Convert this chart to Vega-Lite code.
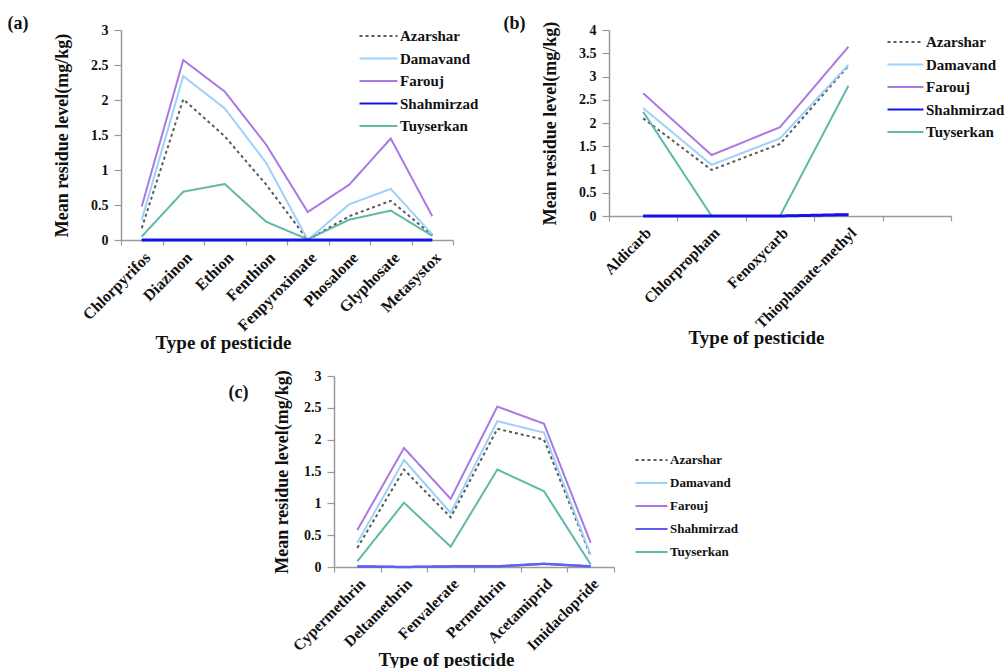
{
  "$schema": "https://vega.github.io/schema/vega-lite/v6.json",
  "background": "white",
  "padding": {"left": 7, "top": 15, "right": 5, "bottom": 5},
  "config": {
    "view": {"stroke": null},
    "font": "Liberation Serif",
    "axis": {
      "labelFont": "Liberation Serif", "labelFontWeight": "bold", "labelColor": "#111",
      "titleFont": "Liberation Serif", "titleFontWeight": "bold", "titleColor": "#111",
      "domainColor": "#9a9a9a", "tickColor": "#9a9a9a", "domainWidth": 1.5, "tickWidth": 1.2,
      "grid": false
    },
    "axisX": {"tickSize": 5, "labelPadding": 4, "titleFontSize": 19},
    "axisY": {"tickSize": 7, "labelPadding": 6, "titleFontSize": 18, "labelFontSize": 14},
    "legend": {
      "labelFont": "Liberation Serif", "labelFontWeight": "bold", "labelColor": "#111",
      "symbolType": "stroke", "symbolStrokeWidth": 2.2, "clipHeight": 16, "rowPadding": 6.5, "labelOffset": 1
    },
    "title": {"font": "Liberation Serif", "fontWeight": "bold", "fontSize": 18, "color": "#111", "anchor": "start", "frame": "bounds"}
  },
  "datasets": {
    "a": [
      {"pesticide": "Chlorpyrifos", "site": "Azarshar", "value": 0.17},
      {"pesticide": "Diazinon", "site": "Azarshar", "value": 2.01},
      {"pesticide": "Ethion", "site": "Azarshar", "value": 1.48},
      {"pesticide": "Fenthion", "site": "Azarshar", "value": 0.79},
      {"pesticide": "Fenpyroximate", "site": "Azarshar", "value": 0.0},
      {"pesticide": "Phosalone", "site": "Azarshar", "value": 0.34},
      {"pesticide": "Glyphosate", "site": "Azarshar", "value": 0.56},
      {"pesticide": "Metasystox", "site": "Azarshar", "value": 0.07},
      {"pesticide": "Chlorpyrifos", "site": "Damavand", "value": 0.29},
      {"pesticide": "Diazinon", "site": "Damavand", "value": 2.34},
      {"pesticide": "Ethion", "site": "Damavand", "value": 1.88},
      {"pesticide": "Fenthion", "site": "Damavand", "value": 1.1},
      {"pesticide": "Fenpyroximate", "site": "Damavand", "value": 0.0},
      {"pesticide": "Phosalone", "site": "Damavand", "value": 0.51},
      {"pesticide": "Glyphosate", "site": "Damavand", "value": 0.73},
      {"pesticide": "Metasystox", "site": "Damavand", "value": 0.08},
      {"pesticide": "Chlorpyrifos", "site": "Farouj", "value": 0.48},
      {"pesticide": "Diazinon", "site": "Farouj", "value": 2.57},
      {"pesticide": "Ethion", "site": "Farouj", "value": 2.12},
      {"pesticide": "Fenthion", "site": "Farouj", "value": 1.36},
      {"pesticide": "Fenpyroximate", "site": "Farouj", "value": 0.4},
      {"pesticide": "Phosalone", "site": "Farouj", "value": 0.79},
      {"pesticide": "Glyphosate", "site": "Farouj", "value": 1.45},
      {"pesticide": "Metasystox", "site": "Farouj", "value": 0.34},
      {"pesticide": "Chlorpyrifos", "site": "Shahmirzad", "value": 0.0},
      {"pesticide": "Diazinon", "site": "Shahmirzad", "value": 0.0},
      {"pesticide": "Ethion", "site": "Shahmirzad", "value": 0.0},
      {"pesticide": "Fenthion", "site": "Shahmirzad", "value": 0.0},
      {"pesticide": "Fenpyroximate", "site": "Shahmirzad", "value": 0.0},
      {"pesticide": "Phosalone", "site": "Shahmirzad", "value": 0.0},
      {"pesticide": "Glyphosate", "site": "Shahmirzad", "value": 0.0},
      {"pesticide": "Metasystox", "site": "Shahmirzad", "value": 0.0},
      {"pesticide": "Chlorpyrifos", "site": "Tuyserkan", "value": 0.05},
      {"pesticide": "Diazinon", "site": "Tuyserkan", "value": 0.69},
      {"pesticide": "Ethion", "site": "Tuyserkan", "value": 0.8},
      {"pesticide": "Fenthion", "site": "Tuyserkan", "value": 0.26},
      {"pesticide": "Fenpyroximate", "site": "Tuyserkan", "value": 0.01},
      {"pesticide": "Phosalone", "site": "Tuyserkan", "value": 0.29},
      {"pesticide": "Glyphosate", "site": "Tuyserkan", "value": 0.42},
      {"pesticide": "Metasystox", "site": "Tuyserkan", "value": 0.06}
    ],
    "b": [
      {"pesticide": "Aldicarb", "site": "Azarshar", "value": 2.1},
      {"pesticide": "Chlorpropham", "site": "Azarshar", "value": 0.99},
      {"pesticide": "Fenoxycarb", "site": "Azarshar", "value": 1.55},
      {"pesticide": "Thiophanate-methyl", "site": "Azarshar", "value": 3.23},
      {"pesticide": "Aldicarb", "site": "Damavand", "value": 2.32},
      {"pesticide": "Chlorpropham", "site": "Damavand", "value": 1.1},
      {"pesticide": "Fenoxycarb", "site": "Damavand", "value": 1.67},
      {"pesticide": "Thiophanate-methyl", "site": "Damavand", "value": 3.25},
      {"pesticide": "Aldicarb", "site": "Farouj", "value": 2.64},
      {"pesticide": "Chlorpropham", "site": "Farouj", "value": 1.31},
      {"pesticide": "Fenoxycarb", "site": "Farouj", "value": 1.91},
      {"pesticide": "Thiophanate-methyl", "site": "Farouj", "value": 3.64},
      {"pesticide": "Aldicarb", "site": "Shahmirzad", "value": 0.0},
      {"pesticide": "Chlorpropham", "site": "Shahmirzad", "value": 0.0},
      {"pesticide": "Fenoxycarb", "site": "Shahmirzad", "value": 0.0},
      {"pesticide": "Thiophanate-methyl", "site": "Shahmirzad", "value": 0.03},
      {"pesticide": "Aldicarb", "site": "Tuyserkan", "value": 2.24},
      {"pesticide": "Chlorpropham", "site": "Tuyserkan", "value": 0.0},
      {"pesticide": "Fenoxycarb", "site": "Tuyserkan", "value": 0.0},
      {"pesticide": "Thiophanate-methyl", "site": "Tuyserkan", "value": 2.8}
    ],
    "c": [
      {"pesticide": "Cypermethrin", "site": "Azarshar", "value": 0.3},
      {"pesticide": "Deltamethrin", "site": "Azarshar", "value": 1.53},
      {"pesticide": "Fenvalerate", "site": "Azarshar", "value": 0.78},
      {"pesticide": "Permethrin", "site": "Azarshar", "value": 2.17},
      {"pesticide": "Acetamiprid", "site": "Azarshar", "value": 2.0},
      {"pesticide": "Imidaclopride", "site": "Azarshar", "value": 0.17},
      {"pesticide": "Cypermethrin", "site": "Damavand", "value": 0.38},
      {"pesticide": "Deltamethrin", "site": "Damavand", "value": 1.68},
      {"pesticide": "Fenvalerate", "site": "Damavand", "value": 0.85},
      {"pesticide": "Permethrin", "site": "Damavand", "value": 2.29},
      {"pesticide": "Acetamiprid", "site": "Damavand", "value": 2.11},
      {"pesticide": "Imidaclopride", "site": "Damavand", "value": 0.19},
      {"pesticide": "Cypermethrin", "site": "Farouj", "value": 0.58},
      {"pesticide": "Deltamethrin", "site": "Farouj", "value": 1.87},
      {"pesticide": "Fenvalerate", "site": "Farouj", "value": 1.07},
      {"pesticide": "Permethrin", "site": "Farouj", "value": 2.52},
      {"pesticide": "Acetamiprid", "site": "Farouj", "value": 2.25},
      {"pesticide": "Imidaclopride", "site": "Farouj", "value": 0.38},
      {"pesticide": "Cypermethrin", "site": "Shahmirzad", "value": 0.01},
      {"pesticide": "Deltamethrin", "site": "Shahmirzad", "value": 0.0},
      {"pesticide": "Fenvalerate", "site": "Shahmirzad", "value": 0.01},
      {"pesticide": "Permethrin", "site": "Shahmirzad", "value": 0.01},
      {"pesticide": "Acetamiprid", "site": "Shahmirzad", "value": 0.05},
      {"pesticide": "Imidaclopride", "site": "Shahmirzad", "value": 0.01},
      {"pesticide": "Cypermethrin", "site": "Tuyserkan", "value": 0.09},
      {"pesticide": "Deltamethrin", "site": "Tuyserkan", "value": 1.01},
      {"pesticide": "Fenvalerate", "site": "Tuyserkan", "value": 0.32},
      {"pesticide": "Permethrin", "site": "Tuyserkan", "value": 1.53},
      {"pesticide": "Acetamiprid", "site": "Tuyserkan", "value": 1.19},
      {"pesticide": "Imidaclopride", "site": "Tuyserkan", "value": 0.04}
    ]
  },
  "spacing": 17,
  "vconcat": [
    {
      "spacing": 24,
      "hconcat": [
        {
          "width": 332, "height": 210,
          "title": {"text": "(a)", "dx": -46, "dy": 14},
          "data": {"name": "a"},
          "encoding": {
            "x": {"field": "pesticide", "type": "nominal",
              "scale": {"type": "band", "paddingInner": 0, "paddingOuter": 0, "domain": ["Chlorpyrifos", "Diazinon", "Ethion", "Fenthion", "Fenpyroximate", "Phosalone", "Glyphosate", "Metasystox"]},
              "axis": {"title": "Type of pesticide", "labelAngle": -45, "tickBand": "extent", "labelFontSize": 16, "titleX": 102, "titleY": 93}},
            "y": {"field": "value", "type": "quantitative", "scale": {"domain": [0, 3]},
              "axis": {"values": [0, 0.5, 1, 1.5, 2, 2.5, 3], "format": "~g", "title": "Mean residue level(mg/kg)", "titlePadding": 19}},
            "color": {"field": "site", "type": "nominal",
              "scale": {"domain": ["Azarshar", "Damavand", "Farouj", "Shahmirzad", "Tuyserkan"], "range": ["#5a5a5a", "#9fd0fa", "#aa78e4", "#1414e6", "#5fb8a8"]},
              "legend": {"title": null, "orient": "none", "legendX": 237, "legendY": -2, "symbolSize": 1444, "labelFontSize": 15}},
            "strokeDash": {"field": "site", "type": "nominal",
              "scale": {"domain": ["Azarshar", "Damavand", "Farouj", "Shahmirzad", "Tuyserkan"], "range": [[3, 3], [1, 0], [1, 0], [1, 0], [1, 0]]},
              "legend": {"title": null, "orient": "none", "legendX": 237, "legendY": -2, "symbolSize": 1444, "labelFontSize": 15}}
          },
          "layer": [
            {"mark": {"type": "line", "strokeWidth": 2}},
            {"transform": [{"filter": "datum.site === 'Shahmirzad'"}], "mark": {"type": "line", "strokeWidth": 3}}
          ]
        },
        {
          "width": 342, "height": 186,
          "title": {"text": "(b)", "dx": -38, "dy": 16},
          "data": {"name": "b"},
          "encoding": {
            "x": {"field": "pesticide", "type": "nominal",
              "scale": {"type": "band", "paddingInner": 0, "paddingOuter": 0, "domain": ["Aldicarb", "Chlorpropham", "Fenoxycarb", "Thiophanate-methyl", " "]},
              "axis": {"title": "Type of pesticide", "labelAngle": -45, "tickBand": "extent", "labelFontSize": 15.5, "titleX": 147, "titleY": 112}},
            "y": {"field": "value", "type": "quantitative", "scale": {"domain": [0, 4]},
              "axis": {"values": [0, 0.5, 1, 1.5, 2, 2.5, 3, 3.5, 4], "format": "~g", "title": "Mean residue level(mg/kg)", "titlePadding": 19}},
            "color": {"field": "site", "type": "nominal",
              "scale": {"domain": ["Azarshar", "Damavand", "Farouj", "Shahmirzad", "Tuyserkan"], "range": ["#5a5a5a", "#9fd0fa", "#aa78e4", "#1414e6", "#5fb8a8"]},
              "legend": {"title": null, "orient": "none", "legendX": 277, "legendY": 4, "symbolSize": 1296, "labelFontSize": 15}},
            "strokeDash": {"field": "site", "type": "nominal",
              "scale": {"domain": ["Azarshar", "Damavand", "Farouj", "Shahmirzad", "Tuyserkan"], "range": [[3, 3], [1, 0], [1, 0], [1, 0], [1, 0]]},
              "legend": {"title": null, "orient": "none", "legendX": 277, "legendY": 4, "symbolSize": 1296, "labelFontSize": 15}}
          },
          "layer": [
            {"mark": {"type": "line", "strokeWidth": 2}},
            {"transform": [{"filter": "datum.site === 'Shahmirzad'"}], "mark": {"type": "line", "strokeWidth": 3}}
          ]
        }
      ],
      "resolve": {"scale": {"x": "independent", "y": "independent", "color": "independent", "strokeDash": "independent"}, "legend": {"color": "independent", "strokeDash": "independent"}}
    },
    {
      "spacing": 0,
      "hconcat": [
        {
          "width": 107, "height": 10,
          "data": {"values": []},
          "mark": {"type": "point", "opacity": 0}
        },
        {
          "width": 280, "height": 191,
          "title": {"text": "(c)", "dx": -45, "dy": 37},
          "data": {"name": "c"},
          "encoding": {
            "x": {"field": "pesticide", "type": "nominal",
              "scale": {"type": "band", "paddingInner": 0, "paddingOuter": 0, "domain": ["Cypermethrin", "Deltamethrin", "Fenvalerate", "Permethrin", "Acetamiprid", "Imidaclopride"]},
              "axis": {"title": "Type of pesticide", "labelAngle": -45, "tickBand": "extent", "labelFontSize": 15.5, "titleX": 112, "titleY": 83}},
            "y": {"field": "value", "type": "quantitative", "scale": {"domain": [0, 3]},
              "axis": {"values": [0, 0.5, 1, 1.5, 2, 2.5, 3], "format": "~g", "title": "Mean residue level(mg/kg)", "titlePadding": 12}},
            "color": {"field": "site", "type": "nominal",
              "scale": {"domain": ["Azarshar", "Damavand", "Farouj", "Shahmirzad", "Tuyserkan"], "range": ["#5a5a5a", "#9fd0fa", "#aa78e4", "#6060f0", "#5fb8a8"]},
              "legend": {"title": null, "orient": "none", "legendX": 300, "legendY": 76, "symbolSize": 1024, "labelFontSize": 13, "rowPadding": 7}},
            "strokeDash": {"field": "site", "type": "nominal",
              "scale": {"domain": ["Azarshar", "Damavand", "Farouj", "Shahmirzad", "Tuyserkan"], "range": [[3, 3], [1, 0], [1, 0], [1, 0], [1, 0]]},
              "legend": {"title": null, "orient": "none", "legendX": 300, "legendY": 76, "symbolSize": 1024, "labelFontSize": 13, "rowPadding": 7}}
          },
          "layer": [
            {"mark": {"type": "line", "strokeWidth": 2}},
            {"transform": [{"filter": "datum.site === 'Shahmirzad'"}], "mark": {"type": "line", "strokeWidth": 2.5}}
          ]
        }
      ],
      "resolve": {"scale": {"x": "independent", "y": "independent", "color": "independent", "strokeDash": "independent"}, "legend": {"color": "independent", "strokeDash": "independent"}}
    }
  ],
  "resolve": {"scale": {"x": "independent", "y": "independent", "color": "independent", "strokeDash": "independent"}, "legend": {"color": "independent", "strokeDash": "independent"}}
}
